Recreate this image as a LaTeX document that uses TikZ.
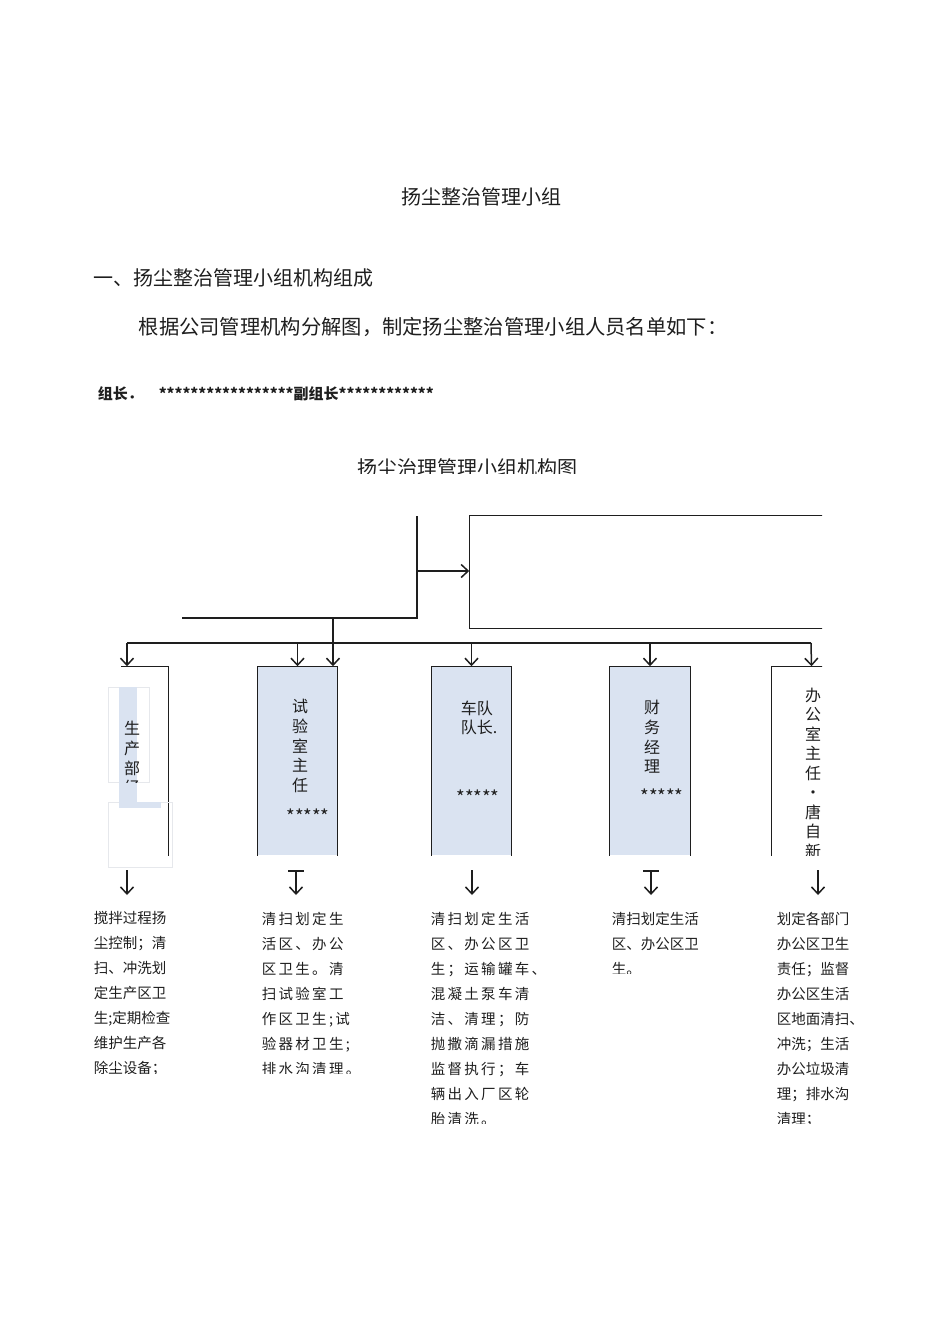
\documentclass[tikz,border=0pt]{standalone}
\usepackage{fontspec}
\setmainfont{Noto Sans CJK SC}
\newfontfamily\spaced[LetterSpace=16]{Noto Sans CJK SC}
\usetikzlibrary{arrows.meta,positioning}
\definecolor{ink}{HTML}{1E1E1E}
\definecolor{lblue}{HTML}{DAE3F1}
\definecolor{faint}{HTML}{E6E8EC}
\tikzset{
  >={Straight Barb[length=7pt,width=13pt]},
  every picture/.style={line width=1.5pt,draw=ink},
  hd/.style={inner sep=0pt,text=ink,font=\fontsize{20}{23}\selectfont},
  ld/.style={inner sep=0pt,text=ink,font=\fontsize{15}{18}\selectfont\bfseries},
  bx/.style={inner sep=0pt,minimum width=79pt,minimum height=188pt},
  edge/.style={draw=ink,line width=1.3pt},
  vt/.style={inner sep=0pt,align=center,text=ink,font=\fontsize{16}{19.6}\selectfont},
  st/.style={inner sep=0pt,text=ink,font=\fontsize{18.5}{20}\selectfont},
  duty/.style={inner sep=0pt,anchor=north west,align=left,text=ink,font=\fontsize{14.5}{25}\selectfont},
  arr/.style={->},
  tee/.style={arrows={Bar[width=16pt]->}},
}
\begin{document}
\begin{tikzpicture}[x=1pt,y=-1pt]
  \useasboundingbox (0,0) rectangle (950,1344);
  % headings
  \node[hd] (title) at (481,197) {扬尘整治管理小组};
  \node[hd,anchor=west] (sec) at (93,278) {一、扬尘整治管理小组机构组成};
  \node[hd,anchor=west,font=\fontsize{20.3}{23}\selectfont] (para) at (138,327) {根据公司管理机构分解图，制定扬尘整治管理小组人员名单如下：};
  \node[ld,anchor=west] (head) at (97,394) {组长．};
  \node[ld,anchor=west] (names) at (158,394) {*****************副组长************};
  \begin{scope}
    \clip (300,445) rectangle (650,473);
    \node[hd] (ctitle) at (467,468) {扬尘治理管理小组机构图};
  \end{scope}
  % top of the tree
  \coordinate (top) at (417,516);
  \coordinate (knee) at (417,618);
  \coordinate (lend) at (182,618);
  \coordinate (mid) at (417,571);
  \coordinate (stem) at (333,618);
  \draw (lend) -- (knee) -- (top);
  \begin{scope}
    \clip (0,0) rectangle (822,1344);
    \node[bx,minimum width=400pt,minimum height=112pt] (grp) at (670,572) {};
    \draw[edge] (grp.north east) -- (grp.north west) -- (grp.south west) -- (grp.south east);
    \node[bx] (b5) at (811.5,761) {};
    \draw[edge] (b5.south west) -- (b5.north west) -- (b5.north east);
    \begin{scope}
      \clip (772,667) rectangle (822,855);
      \node[vt,font=\fontsize{16}{19.5}\selectfont] (l5) at (813,773) {办\\公\\室\\主\\任\\•\\唐\\自\\新};
    \end{scope}
  \end{scope}
  \draw[->] (mid) -- (mid -| grp.west);
  % department boxes
  \node[bx,minimum width=46pt] (b1) at (145,761) {};
  \draw[edge] (b1.north west) -- (b1.north east) -- (b1.south east);
  \draw[faint,line width=0.8pt] (108,687) rectangle (149,782);
  \draw[faint,line width=0.8pt] (108,802) rectangle (172,867);
  \fill[lblue] (119,687) rectangle (137,808);
  \fill[lblue] (119,802) rectangle (161,808);
  \begin{scope}
    \clip (108,687) rectangle (150,782);
    \node[vt] (l1) at (132,758) {生\\产\\部\\经};
  \end{scope}
  \node[bx,fill=lblue] (b2) at (297.5,761) {};
  \draw[edge] (b2.south west) -- (b2.north west) -- (b2.north east) -- (b2.south east);
  \node[vt] (l2) at (300,746) {试\\验\\室\\主\\任};
  \node[st] (s2) at (308,816) {*****};
  \node[bx,fill=lblue] (b3) at (471.5,761) {};
  \draw[edge] (b3.south west) -- (b3.north west) -- (b3.north east) -- (b3.south east);
  \node[vt,align=left] (l3) at (479,718) {车队\\队长.};
  \node[st] (s3) at (478,797) {*****};
  \node[bx,fill=lblue,minimum width=80pt] (b4) at (650,761) {};
  \draw[edge] (b4.south west) -- (b4.north west) -- (b4.north east) -- (b4.south east);
  \node[vt] (l4) at (652,737) {财\\务\\经\\理};
  \node[st] (s4) at (662,796) {*****};
  % bus and drops
  \coordinate (busL) at (127,643);
  \coordinate (busR) at (811,643);
  \draw (busL) -- (busR);
  \draw[->] (busL) -- (busL |- b1.north);
  \draw[->] (b2.north |- busL) -- (b2.north);
  \draw[->] (stem) -- (stem |- b2.north);
  \draw[->] (b3.north |- busL) -- (b3.north);
  \draw[->] (b4.north |- busL) -- (b4.north);
  \draw[->] (busR) -- (b5.north);
  % arrows to the duties
  \foreach \x/\n/\s in {127/1/arr,296/2/tee,472/3/arr,651/4/tee,818/5/arr}
    {\coordinate (a\n) at (\x,870); \coordinate (z\n) at (\x,895); \draw[\s] (a\n) -- (z\n);}
  % duties
  \begin{scope}
    \clip (80,900) rectangle (250,1073);
    \node[duty] (t1) at (93,911) {搅拌过程扬\\尘控制；清\\扫、冲洗划\\定生产区卫\\生;定期检查\\维护生产各\\除尘设备；};
  \end{scope}
  \begin{scope}
    \clip (250,900) rectangle (420,1073);
    \node[duty,font=\fontsize{14.5}{25}\selectfont\spaced] (t2) at (261,911) {清扫划定生\\活区、办公\\区卫生。清\\扫试验室工\\作区卫生;试\\验器材卫生;\\排水沟清理。};
  \end{scope}
  \begin{scope}
    \clip (420,900) rectangle (600,1123);
    \node[duty,font=\fontsize{14.5}{25}\selectfont\spaced] (t3) at (430,911) {清扫划定生活\\区、办公区卫\\生；运输罐车、\\混凝土泵车清\\洁、清理；防\\抛撒滴漏措施\\监督执行；车\\辆出入厂区轮\\胎清洗。};
  \end{scope}
  \begin{scope}
    \clip (600,900) rectangle (760,973);
    \node[duty] (t4) at (611,911) {清扫划定生活\\区、办公区卫\\生。};
  \end{scope}
  \begin{scope}
    \clip (760,900) rectangle (900,1123);
    \node[duty] (t5) at (776,911) {划定各部门\\办公区卫生\\责任；监督\\办公区生活\\区地面清扫、\\冲洗；生活\\办公垃圾清\\理；排水沟\\清理；};
  \end{scope}
\end{tikzpicture}
\end{document}
